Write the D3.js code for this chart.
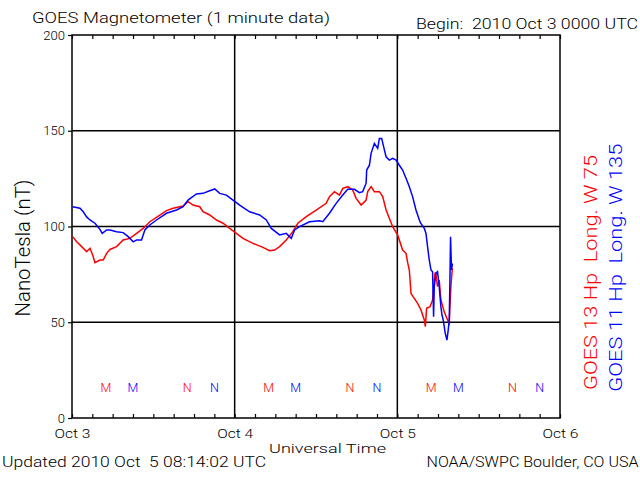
<!DOCTYPE html>
<html>
<head>
<meta charset="utf-8">
<script src="https://cdn.jsdelivr.net/npm/d3@7"></script>
<style>
  html, body { margin: 0; padding: 0; background: #fff; }
  svg { display: block; }
  text { font-family: Roboto, "Liberation Sans", sans-serif; font-weight: 300; white-space: pre; }
</style>
</head>
<body>
<svg id="chart" width="640" height="480"></svg>
<script>
// ---- data (hours since 2010 Oct 3 00:00 UTC, values in nT) ----
const dayLabels = ["Oct 3", "Oct 4", "Oct 5", "Oct 6"];
const dayHours = [0, 24, 48, 72];
const yTicks = [0, 50, 100, 150, 200];

const g13Hours = [0.1,0.69,1.43,2.16,2.65,3.05,3.39,4.12,4.61,5.11,5.6,6.58,7.55,8.54,9.53,10.5,11.48,12.96,13.94,14.92,16.39,17.12,17.86,18.85,19.33,20.32,21.31,22.28,23.26,24.25,25.22,26.69,28.17,29.15,29.89,30.63,31.61,32.58,33.32,34.56,36.03,37.5,37.99,38.72,39.46,39.95,40.68,41.42,41.92,42.66,43.39,43.63,44.13,44.61,45.35,45.84,46.34,46.82,47.31,48.04,48.78,49.28,49.53,49.77,50.02,50.5,50.99,51.49,51.98,52.13,52.32,52.82,53.2,53.45,53.57,53.7,53.93,54.18,54.43,54.92,55.41,55.66,55.76,55.9,56.05,56.14];
const g13Values = [94.7,92,89.5,86.8,88.6,85.1,81.1,82.5,82.5,86,88,89.5,93,93.8,96.4,99,102.5,106,108.3,109.5,110.7,113,111.2,110.3,107.7,106,103.4,101.7,99,96.4,93.8,91.2,89.1,87.4,87.7,89.5,93,97.3,101.7,105.2,108.6,112.1,115.6,118.2,116.4,119.9,120.8,119,114.7,111.2,113.8,118.2,120.8,118.2,118.2,115.6,108.6,104.3,99.9,95.6,87.7,86,81,77.3,65,62.5,59.9,56.4,51.2,47.7,57.3,58.1,61.6,72,76,74.7,68.6,72,61.6,55.5,51.2,49.5,58.1,68.6,75.6,78.2];

const g11Hours = [0.1,1.18,1.66,2.16,2.65,3.39,4.12,4.46,5.11,5.6,6.58,7.55,8.29,9.03,9.53,10.26,10.75,11.48,12.47,13.94,15.42,16.39,17.12,18.36,19.33,20.32,21.06,21.79,22.78,23.75,24.74,25.22,26.21,27.68,28.67,29.4,30.63,31.61,32.35,32.84,33.57,35.04,36.52,37,37.99,38.97,39.95,40.68,41.67,42.41,42.89,43.39,43.48,43.88,44.13,44.61,45.1,45.35,45.69,46.09,46.34,46.82,47.31,47.81,48.3,48.78,49.28,49.77,50.25,50.75,51.25,51.4,51.98,52.23,52.46,52.71,52.96,53.2,53.35,53.45,53.7,53.93,54.18,54.43,54.58,54.77,55.07,55.32,55.51,55.66,55.76,55.85,55.99,56.14];
const g11Values = [110.3,109.5,107.7,105,103.4,101.7,98.5,96.4,98.2,98.2,97.3,96.8,94.7,92,93,93,98.2,100.8,103.4,106.9,108.6,110.3,113.8,117,117.3,118.7,119.6,117.3,116.4,113.8,111.2,110,107.7,106,103.4,99,95.6,96.4,93.8,98.2,99.9,102.5,103,102.5,106.9,112.1,116.4,119.4,119.4,117.7,118.2,122.5,129.5,132,138.2,143.4,140.8,146,146,140,136.4,134.7,135.6,134.7,132,129.5,125.2,120.8,115.6,108.6,103.4,102,99,96.4,89.5,82.5,77.3,76.4,52.9,68.6,75.6,76.4,68.6,58,54,51.2,44.2,40.7,46,51.2,72,94.7,77.3,80.8];

const markerHours13 = [5, 17, 29, 41, 53, 65];
const markerHours11 = [9, 21, 33, 45, 57, 69];
const markerLetters = ["M", "N", "M", "N", "M", "N"];
const markerLevel = 16;

// ---- drawing ----
const svg = d3.select("#chart");
const L = 72, R = 560, T = 35, B = 418;
const x = d3.scaleLinear().domain([0, 72]).range([L, R]);
const y = d3.scaleLinear().domain([0, 200]).range([B, T]);
const RED = "#ff0000", BLUE = "#0000ff";

// gridlines
svg.append("g").selectAll("line").data([50, 100, 150]).join("line")
  .attr("x1", L).attr("x2", R).attr("y1", d => y(d)).attr("y2", d => y(d))
  .attr("stroke", "#000").attr("stroke-width", 1.5);
svg.append("g").selectAll("line").data([24, 48]).join("line")
  .attr("x1", d => x(d)).attr("x2", d => x(d)).attr("y1", T).attr("y2", B)
  .attr("stroke", "#000").attr("stroke-width", 1.5);

// frame
svg.append("rect").attr("x", L).attr("y", T).attr("width", R - L).attr("height", B - T)
  .attr("fill", "none").attr("stroke", "#000").attr("stroke-width", 1.5);

// minor time ticks, inward on top and bottom
const minor = d3.range(0, 73, 3);
const bAx = svg.append("g").attr("transform", `translate(0,${B})`)
  .call(d3.axisBottom(x).tickValues(minor).tickSize(-4).tickFormat(""));
const tAx = svg.append("g").attr("transform", `translate(0,${T})`)
  .call(d3.axisTop(x).tickValues(minor).tickSize(-4).tickFormat(""));
[bAx, tAx].forEach(a => { a.select(".domain").remove(); a.selectAll("line").attr("stroke", "#000").attr("stroke-width", 1.2); });

// day labels
const dAx = svg.append("g").attr("transform", `translate(0,${B})`)
  .call(d3.axisBottom(x).tickValues(dayHours).tickSize(0).tickPadding(0).tickFormat((d, i) => dayLabels[i]));
dAx.select(".domain").remove();
dAx.attr("font-family", null).attr("font-size", null);
dAx.selectAll("text").attr("y", 20).attr("dy", 0).attr("fill", "#000")
  .style("font-size", "13px")
  .attr("textLength", 36).attr("lengthAdjust", "spacingAndGlyphs");

// y axis
const yAx = svg.append("g").attr("transform", `translate(${L},0)`)
  .call(d3.axisLeft(y).tickValues(yTicks).tickSize(4).tickPadding(3).tickFormat(d3.format("d")));
yAx.select(".domain").remove();
yAx.attr("font-family", null).attr("font-size", null);
yAx.selectAll("line").attr("stroke", "#000").attr("stroke-width", 1.2);
yAx.selectAll("text").attr("fill", "#000").style("font-size", "13px").attr("dy", "0.32em");

// data lines
const line = d3.line().x(d => x(d[0])).y(d => y(d[1]));
svg.append("path").datum(d3.zip(g13Hours, g13Values))
  .attr("d", line).attr("fill", "none").attr("stroke", RED).attr("stroke-width", 1.5);
svg.append("path").datum(d3.zip(g11Hours, g11Values))
  .attr("d", line).attr("fill", "none").attr("stroke", BLUE).attr("stroke-width", 1.5);

// M / N markers
function markers(hours, color) {
  svg.append("g").selectAll("text").data(hours).join("text")
    .attr("x", d => x(d)).attr("y", y(markerLevel) + 5)
    .attr("text-anchor", "middle").attr("fill", color)
    .style("font-size", "12.5px")
    .text((d, i) => markerLetters[i]);
}
markers(markerHours13, RED);
markers(markerHours11, BLUE);

// texts
function txt(s, xx, yy, size, len, color, extra) {
  const t = svg.append("text").attr("x", xx).attr("y", yy)
    .attr("fill", color || "#000").style("font-size", size + "px").text(s);
  if (len) t.attr("textLength", len).attr("lengthAdjust", "spacingAndGlyphs");
  if (extra) extra(t);
  return t;
}
txt("GOES Magnetometer (1 minute data)", 32, 22.5, 15, 298);
txt("Begin:  2010 Oct 3 0000 UTC", 416, 29.3, 14.5, 222);
txt("Universal Time", 269, 452.5, 13.5, 117);
txt("Updated 2010 Oct  5 08:14:02 UTC", 2, 467, 15, 264);
txt("NOAA/SWPC Boulder, CO USA", 426.5, 467, 15, 212);

txt("NanoTesla (nT)", 0, 0, 20, 137, "#000", t =>
  t.attr("transform", "translate(30,248) rotate(-90)").attr("text-anchor", "middle"));
txt("GOES 13 Hp  Long. W 75", 0, 0, 18, 235, RED, t =>
  t.attr("transform", "translate(597,390) rotate(-90)"));
txt("GOES 11 Hp  Long. W 135", 0, 0, 18, 248, BLUE, t =>
  t.attr("transform", "translate(622,391.7) rotate(-90)"));
</script>
</body>
</html>
